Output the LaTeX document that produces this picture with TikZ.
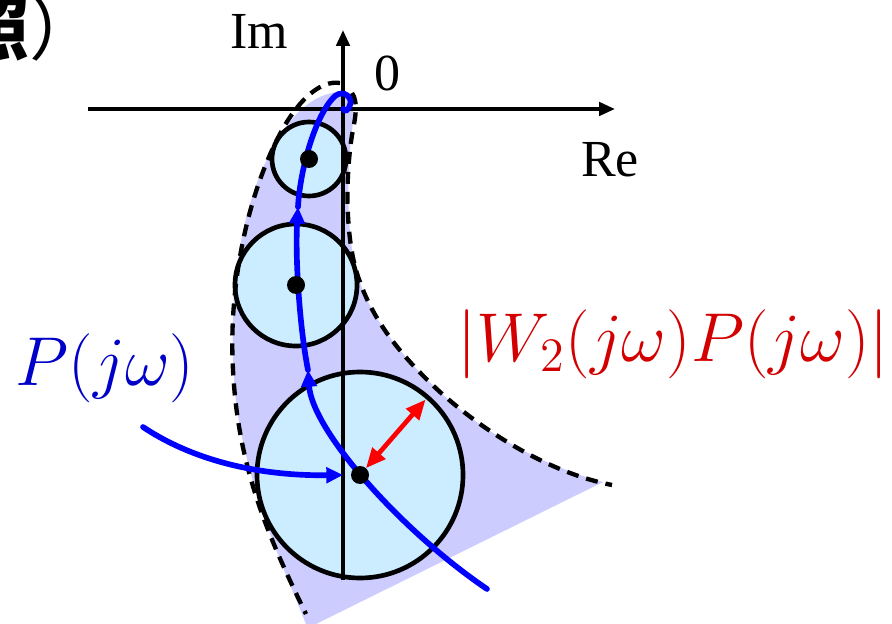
\documentclass[tikz,border=0pt]{standalone}
\usepackage[no-math]{fontspec}
\setmainfont{Liberation Serif}
\newfontfamily\cjk{Noto Sans CJK JP}
\usetikzlibrary{arrows.meta}
\definecolor{bandfill}{RGB}{204,204,255}
\definecolor{discfill}{RGB}{204,236,255}
\definecolor{labelblue}{RGB}{0,0,200}
\definecolor{labelred}{RGB}{210,0,0}
\begin{document}
\begin{tikzpicture}[x=0.3pt,y=-0.3pt,
  bound/.style={line width=1.3pt,dash pattern=on 3.6pt off 2.4pt},
  disc/.style={line width=1.4pt,fill=discfill},
  nyq/.style={blue,line width=1.7pt,line cap=round},
  nyqtip/.style={nyq,-{Triangle[length=5pt,width=4.6pt]}},
  axis/.style={line width=1.1pt,-{Triangle[length=4.8pt,width=4pt]}},
  txt/.style={font=\fontsize{15.6}{18}\selectfont,inner sep=0pt},
  mtxt/.style={font=\fontsize{20.74}{24}\selectfont,inner sep=0pt}]
 \useasboundingbox (0,0) rectangle (892,624);
 % points
 \coordinate (O) at (343,109);
 \coordinate (p1) at (309,159);
 \coordinate (p2) at (296,285);
 \coordinate (p3) at (360,475);
 % uncertainty band
 \fill[bandfill] (340,92) .. controls (350,95) and (356,105) .. (352,130)
   .. controls (347,170) and (346,230) .. (356,270)
   .. controls (368,315) and (400,355) .. (440,392)
   .. controls (480,430) and (540,465) .. (603,482)
   -- (316,624) -- (306,624)
   .. controls (280,560) and (240,470) .. (234,380)
   .. controls (228,290) and (240,200) .. (280,135)
   .. controls (300,105) and (320,93) .. (340,92) -- cycle;
 % circles
 \draw[disc] (p1) circle[radius=37];
 \draw[disc] (p2) circle[radius=61];
 \draw[disc] (p3) circle[radius=103];
 % envelope
 \draw[bound] (340,83) .. controls (320,80) and (300,100) .. (285,125)
   .. controls (250,185) and (228,280) .. (233,370)
   .. controls (238,470) and (270,540) .. (306,614);
 \draw[bound] (352,93) .. controls (358,102) and (356,115) .. (352,135)
   .. controls (345,180) and (346,235) .. (356,270)
   .. controls (370,318) and (400,355) .. (440,392)
   .. controls (480,428) and (545,472) .. (612,485);
 % axes
 \coordinate (xl) at (88,109);
 \coordinate (xr) at (615,109);
 \coordinate (yb) at (343,580);
 \coordinate (yt) at (343,30);
 \draw[axis] (xl) -- (xr);
 \draw[axis] (yb) -- (yt);
 \node[txt] (im) at (259,31) {Im};
 \node[txt] (zero) at (387,73) {0};
 \node[txt] (re) at (610,160) {Re};
 % Nyquist curve
 \coordinate (q0) at (487,589);
 \coordinate (q1) at (308,370);
 \coordinate (q2) at (298,207);
 \draw[nyqtip] (q0) .. controls (400,530) and (312,430) .. (q1);
 \draw[nyqtip] (q1) .. controls (300,330) and (295,260) .. (q2);
 \draw[nyq] (q2) .. controls (300,170) and (315,115) .. (335,96)
   .. controls (344,89) and (353,98) .. (350,105)
   .. controls (348,111) and (345,112) .. (O);
 \foreach \p in {p1,p2,p3} \fill (\p) circle[radius=9];
 % labels
 \node[mtxt,text=labelblue] (plab) at (105,368) {$P(j\omega)$};
 \node[mtxt,text=labelred] (wlab) at (673,344) {$|W_2(j\omega)P(j\omega)|$};
 \coordinate (ptail) at (143,427);
 \draw[nyqtip] (ptail) .. controls (200,465) and (270,476) .. ([xshift=-5.1pt]p3);
 \draw[red,line width=1.4pt,{Triangle[length=6pt,width=5pt]}-{Triangle[length=6pt,width=5pt]}]
   ([shift={(49:2.7pt)}]p3) -- ([shift={(49:30pt)}]p3);
 \node[font=\cjk\fontsize{21}{23}\selectfont,inner sep=0pt,anchor=base east] (cap) at (100,55) {{\bfseries 照}）};
\end{tikzpicture}
\end{document}
